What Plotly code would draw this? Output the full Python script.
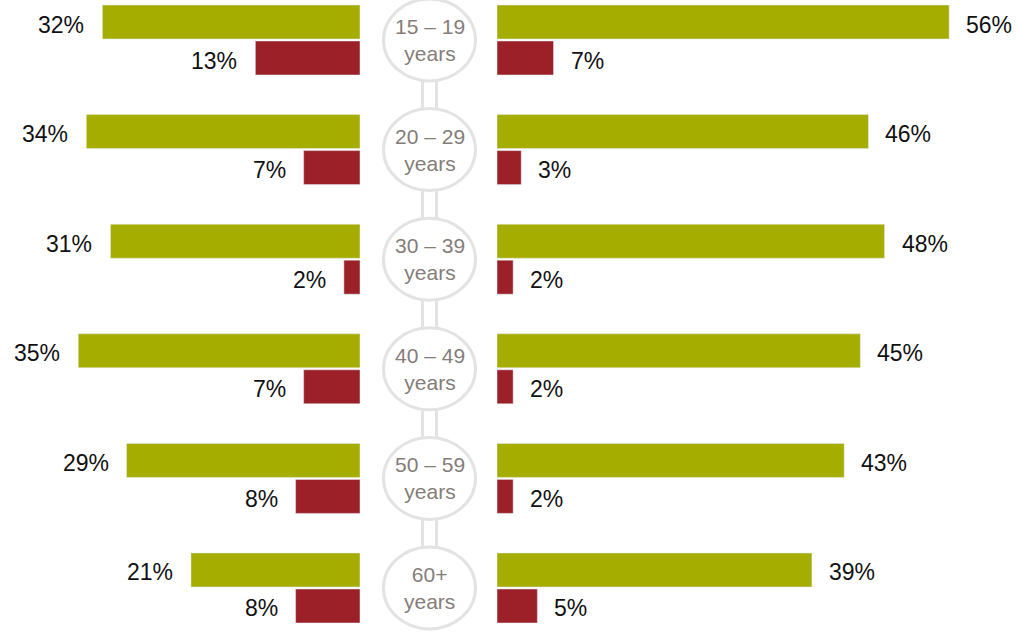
import plotly.graph_objects as go

ages = ["15 – 19<br>years", "20 – 29<br>years", "30 – 39<br>years",
        "40 – 49<br>years", "50 – 59<br>years", "60+<br>years"]
cats = ["15-19", "20-29", "30-39", "40-49", "50-59", "60+"]
left_green = [32, 34, 31, 35, 29, 21]
left_red = [13, 7, 2, 7, 8, 8]
right_green = [56, 46, 48, 45, 43, 39]
right_red = [7, 3, 2, 2, 2, 5]

GREEN = "#a5ad00"
RED = "#9c2027"
FONT = "Liberation Sans, Arial, sans-serif"
W, H = 1017, 635
CX = 429.5 / W

fig = go.Figure()
fig.add_trace(go.Bar(y=cats, x=left_green, orientation="h", marker_color=GREEN,
                     xaxis="x", yaxis="y", hoverinfo="skip"))
fig.add_trace(go.Bar(y=cats, x=left_red, orientation="h", marker_color=RED,
                     xaxis="x", yaxis="y", hoverinfo="skip"))
fig.add_trace(go.Bar(y=cats, x=right_green, orientation="h", marker_color=GREEN,
                     xaxis="x2", yaxis="y", hoverinfo="skip"))
fig.add_trace(go.Bar(y=cats, x=right_red, orientation="h", marker_color=RED,
                     xaxis="x2", yaxis="y", hoverinfo="skip"))

annotations = []
for c, g, r in zip(cats, left_green, left_red):
    for v, dy in ((g, 15.5), (r, -20.5)):
        annotations.append(dict(x=v, y=c, xref="x", yref="y", text=f"{v}%",
                                showarrow=False, xanchor="right", yanchor="middle",
                                xshift=-16, yshift=dy,
                                font=dict(size=23, color="#111111", family=FONT)))
for c, g, r in zip(cats, right_green, right_red):
    for v, dy in ((g, 15.5), (r, -20.5)):
        annotations.append(dict(x=v, y=c, xref="x2", yref="y", text=f"{v}%",
                                showarrow=False, xanchor="left", yanchor="middle",
                                xshift=15, yshift=dy,
                                font=dict(size=23, color="#111111", family=FONT)))
for c, lab in zip(cats, ages):
    annotations.append(dict(x=CX, y=c, xref="paper", yref="y", text=lab,
                            showarrow=False, xanchor="center", yanchor="middle",
                            font=dict(size=21, color="#857d79", family=FONT)))

shapes = []
LINE = "#e3e3e3"
for a, b in zip(cats[:-1], cats[1:]):
    shapes.append(dict(type="rect", xref="paper", yref="y", xsizemode="pixel",
                       xanchor=CX, x0=-7, x1=7, y0=a, y1=b,
                       line=dict(color=LINE, width=3), fillcolor="white", layer="above"))
for c in cats:
    shapes.append(dict(type="circle", xref="paper", yref="y", xsizemode="pixel",
                       ysizemode="pixel", xanchor=CX, yanchor=c,
                       x0=-46, x1=46, y0=-41, y1=41,
                       line=dict(color=LINE, width=3), fillcolor="white", layer="above"))

fig.update_layout(
    width=W, height=H,
    margin=dict(l=0, r=0, t=0, b=0),
    paper_bgcolor="white", plot_bgcolor="white",
    barmode="group", bargap=0.343, bargroupgap=0.056,
    showlegend=False,
    xaxis=dict(domain=[0, 360 / W], range=[44.72, 0], visible=False, fixedrange=True),
    xaxis2=dict(domain=[497 / W, 1], range=[0, 64.4], visible=False, fixedrange=True,
                anchor="y"),
    yaxis=dict(range=[5.429, -0.365], visible=False, anchor="x",
               categoryorder="array", categoryarray=cats),
    annotations=annotations,
    shapes=shapes,
)

fig.write_html("out.html")
